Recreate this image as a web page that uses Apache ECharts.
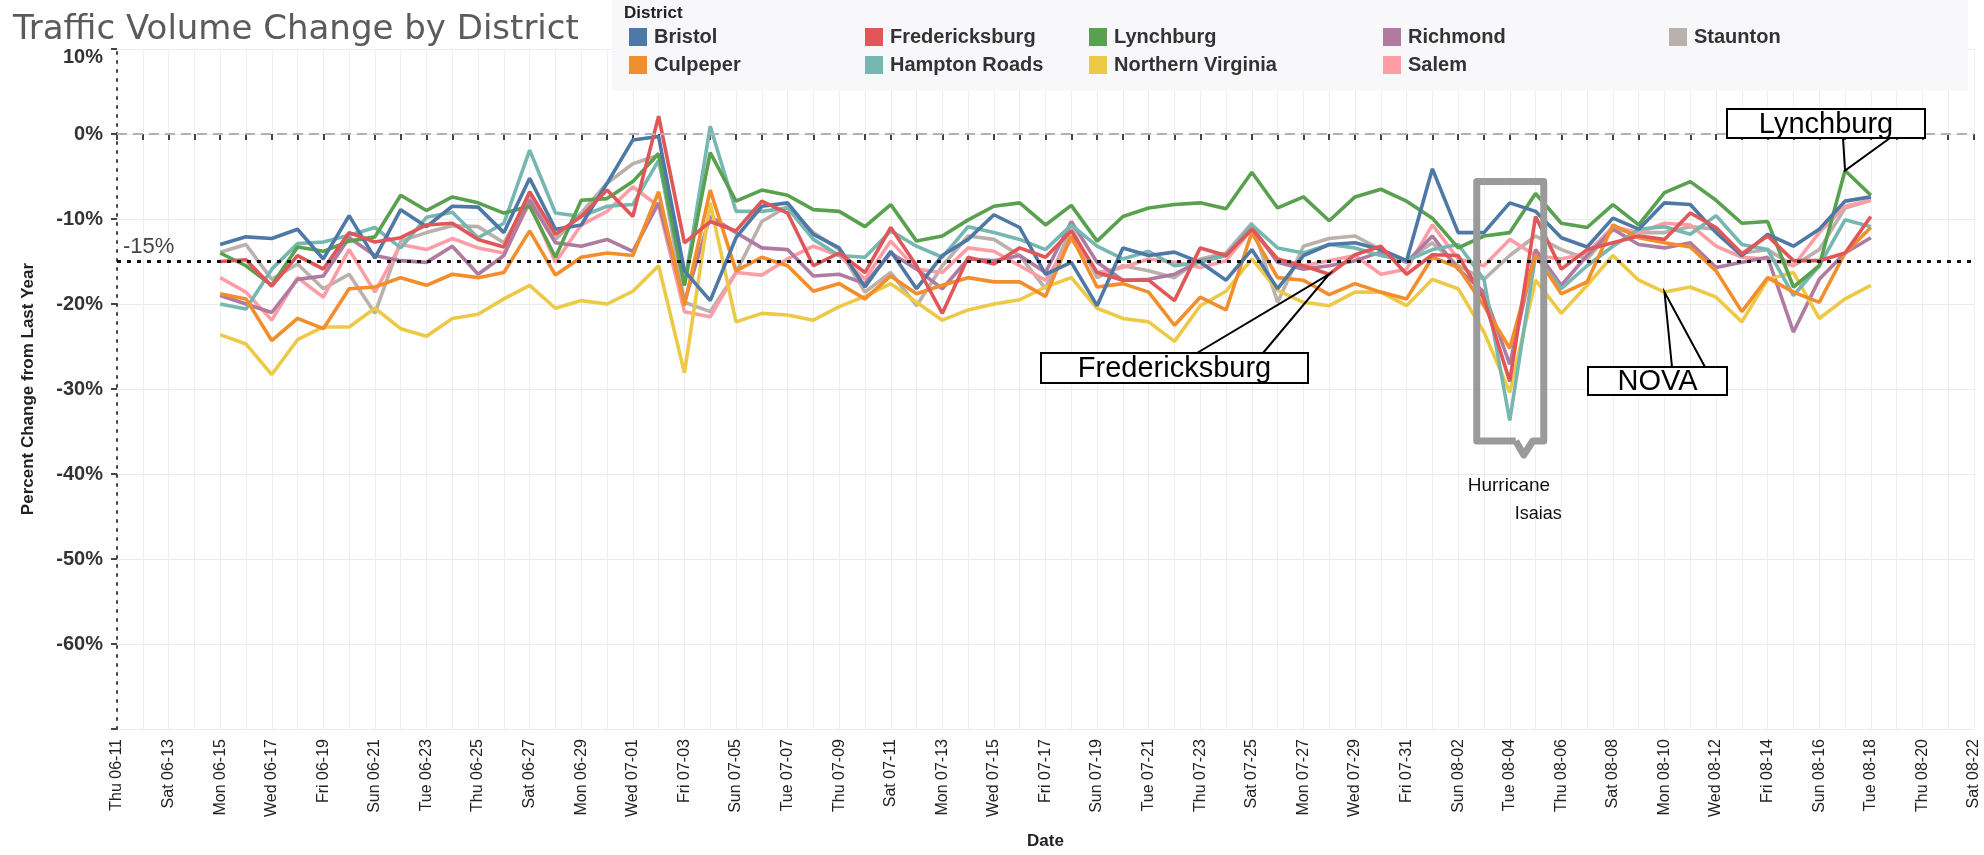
<!DOCTYPE html>
<html><head><meta charset="utf-8">
<script src="https://cdn.jsdelivr.net/npm/echarts@6/dist/echarts.min.js"></script>
<style>html,body{margin:0;padding:0;background:#fff;}#c{width:1984px;height:855px;}</style>
</head><body><div id="c"></div>
<script>
// ---- axis categories (every day, Thu 06-11 .. Sat 08-22, 2020) ----
const DOW = ['Sun','Mon','Tue','Wed','Thu','Fri','Sat'];
const categories = [];
for (let t = Date.UTC(2020,5,11); t <= Date.UTC(2020,7,22); t += 86400000) {
  const d = new Date(t);
  const mm = String(d.getUTCMonth()+1).padStart(2,'0');
  const dd = String(d.getUTCDate()).padStart(2,'0');
  categories.push(DOW[d.getUTCDay()] + ' ' + mm + '-' + dd);
}
// data dates: Mon 06-15 .. Tue 08-18
const dataDates = categories.slice(4, 69);

// ---- series values (percent change from last year) ----
const bristol = [-13.0,-12.1,-12.3,-11.2,-14.7,-9.6,-14.6,-8.9,-10.9,-8.5,-8.6,
 -11.6,-5.2,-11.2,-10.7,-5.8,-0.7,-0.3,-16.1,-19.6,-12.2,-8.5,
 -8.1,-11.8,-13.4,-18.0,-13.8,-18.2,-14.3,-12.4,-9.5,-11.0,-16.5,
 -15.1,-20.2,-13.4,-14.3,-13.9,-15.1,-17.2,-13.6,-18.2,-14.3,-13.0,
 -12.8,-13.6,-14.9,-4.1,-11.6,-11.6,-8.1,-9.1,-12.2,-13.3,-9.9,
 -11.2,-8.1,-8.3,-11.6,-14.3,-11.8,-13.2,-11.2,-7.9,-7.4];
const culpeper = [-18.8,-19.4,-24.3,-21.7,-22.9,-18.2,-18.0,-16.9,-17.8,-16.5,-16.9,
 -16.3,-11.4,-16.6,-14.5,-14.0,-14.3,-6.8,-20.2,-6.6,-16.1,-14.5,
 -15.5,-18.5,-17.6,-19.4,-16.7,-18.8,-17.8,-16.9,-17.4,-17.4,-19.1,
 -12.0,-18.0,-17.6,-18.6,-22.5,-19.2,-20.7,-11.6,-16.9,-17.2,-18.9,
 -17.6,-18.6,-19.4,-14.5,-15.7,-20.2,-25.2,-14.2,-18.8,-17.4,-10.7,
 -12.2,-12.8,-13.3,-16.1,-20.9,-16.9,-18.6,-19.8,-14.0,-11.0];
const fredericksburg = [-15.0,-14.8,-17.9,-14.3,-15.9,-11.6,-12.7,-12.2,-10.7,-10.5,-12.4,
 -13.3,-6.8,-11.8,-9.7,-6.6,-9.7,2.1,-12.8,-10.3,-11.4,-7.9,
 -9.3,-15.5,-14.0,-16.3,-11.0,-15.5,-21.1,-14.5,-15.3,-13.4,-14.5,
 -11.4,-16.3,-17.2,-17.2,-19.6,-13.4,-14.3,-11.2,-14.7,-15.5,-16.5,
 -14.2,-13.2,-16.5,-14.2,-14.3,-19.4,-29.1,-9.7,-15.9,-13.6,-12.8,
 -12.0,-12.4,-9.3,-11.0,-14.1,-12.0,-14.9,-14.9,-14.0,-9.7];
const hamptonRoads = [-20.0,-20.6,-15.9,-12.9,-12.7,-11.9,-11.0,-13.4,-9.8,-9.2,-12.2,
 -10.5,-1.9,-9.3,-9.7,-8.5,-8.3,-3.1,-17.8,0.9,-9.1,-9.1,
 -8.7,-12.4,-14.3,-14.5,-11.4,-13.2,-14.5,-10.9,-11.6,-12.4,-13.6,
 -10.7,-13.2,-14.7,-13.8,-15.5,-15.1,-14.3,-10.7,-13.4,-14.0,-13.0,
 -13.4,-14.3,-14.9,-13.6,-13.0,-17.1,-33.7,-14.3,-18.2,-15.5,-13.2,
 -11.2,-10.9,-11.8,-9.6,-13.0,-13.6,-19.0,-15.5,-10.1,-10.9];
const lynchburg = [-14.0,-15.5,-17.8,-13.3,-13.8,-12.6,-12.1,-7.2,-9.0,-7.4,-8.1,
 -9.3,-8.5,-14.5,-7.8,-7.6,-5.6,-2.3,-17.8,-2.2,-7.9,-6.6,
 -7.2,-8.9,-9.1,-10.9,-8.3,-12.6,-12.0,-10.1,-8.5,-8.1,-10.7,
 -8.4,-12.6,-9.7,-8.7,-8.3,-8.1,-8.8,-4.5,-8.7,-7.4,-10.2,
 -7.4,-6.5,-7.9,-9.9,-13.4,-12.0,-11.6,-7.0,-10.5,-11.0,-8.3,
 -10.7,-6.9,-5.6,-7.8,-10.5,-10.3,-18.0,-15.5,-4.3,-7.2];
const northernVirginia = [-23.6,-24.7,-28.3,-24.2,-22.7,-22.7,-20.5,-22.9,-23.8,-21.7,-21.2,
 -19.4,-17.8,-20.5,-19.6,-20.0,-18.5,-15.5,-28.1,-8.1,-22.1,-21.1,
 -21.3,-21.9,-20.3,-19.1,-17.6,-19.8,-21.9,-20.7,-20.0,-19.5,-18.0,
 -16.9,-20.5,-21.7,-22.1,-24.4,-20.2,-18.5,-14.7,-18.4,-19.8,-20.2,
 -18.6,-18.6,-20.2,-17.1,-18.2,-23.3,-30.4,-17.2,-21.1,-17.8,-14.3,
 -17.2,-18.6,-18.0,-19.2,-22.1,-17.1,-16.3,-21.7,-19.4,-17.8];
const richmond = [-19.0,-20.0,-21.0,-17.1,-16.7,-12.2,-14.3,-14.9,-15.1,-13.2,-16.5,
 -14.3,-7.8,-12.8,-13.2,-12.4,-13.8,-8.1,-19.8,-9.7,-11.6,-13.4,
 -13.6,-16.7,-16.5,-17.6,-14.0,-15.9,-18.2,-14.7,-14.9,-14.3,-16.3,
 -10.3,-15.1,-17.2,-17.1,-16.5,-14.9,-14.3,-10.9,-15.1,-15.9,-15.5,
 -14.9,-13.9,-15.1,-12.0,-15.9,-18.6,-27.1,-13.6,-17.8,-14.3,-11.2,
 -13.0,-13.4,-12.8,-15.7,-15.1,-14.5,-23.3,-17.1,-14.0,-12.2];
const salem = [-16.9,-18.6,-21.9,-16.9,-19.2,-13.6,-18.6,-13.0,-13.6,-12.3,-13.4,
 -14.0,-8.1,-15.1,-10.7,-9.1,-6.2,-8.5,-20.9,-21.5,-16.3,-16.6,
 -14.7,-13.2,-14.3,-17.1,-12.6,-15.9,-16.3,-13.4,-13.8,-15.5,-17.2,
 -12.4,-16.3,-15.7,-14.7,-15.1,-15.7,-14.9,-11.2,-14.9,-15.5,-14.9,
 -14.3,-16.5,-15.9,-10.7,-14.7,-15.5,-12.4,-14.3,-14.7,-14.0,-10.9,
 -11.6,-10.5,-10.7,-13.2,-14.5,-14.7,-15.5,-11.6,-8.5,-7.8];
const staunton = [-13.9,-13.0,-17.1,-15.3,-18.2,-16.5,-21.1,-12.6,-11.6,-10.8,-10.9,
 -12.8,-7.4,-12.4,-9.3,-5.8,-3.5,-2.5,-19.8,-20.9,-16.3,-10.3,
 -8.5,-11.6,-13.6,-18.6,-16.3,-20.2,-15.5,-12.0,-12.4,-14.3,-18.2,
 -11.0,-16.9,-15.5,-16.1,-16.9,-14.7,-14.0,-10.5,-19.8,-13.2,-12.3,
 -12.0,-13.6,-14.9,-12.8,-15.5,-17.1,-14.3,-12.0,-13.6,-14.7,-11.2,
 -11.6,-11.6,-10.9,-11.2,-14.0,-13.6,-15.5,-13.6,-8.7,-7.8];

const districts = ['Bristol','Culpeper','Fredericksburg','Hampton Roads','Lynchburg','Northern Virginia','Richmond','Salem','Staunton'];
const values = [bristol, culpeper, fredericksburg, hamptonRoads, lynchburg, northernVirginia, richmond, salem, staunton];
const colors = ['#4e79a7','#f28e2b','#e15759','#76b7b2','#59a14f','#edc948','#b07aa1','#ff9da7','#bab0ac'];
const drawOrder = [8,7,6,5,3,1,4,0,2];

const yTicks = [10,0,-10,-20,-30,-40,-50,-60];
const FONT = "'Liberation Sans', Arial, sans-serif";

const chart = echarts.init(document.getElementById('c'), null, {renderer:'canvas'});

const series = drawOrder.map(k => ({
  name: districts[k], type:'line', symbol:'none', smooth:false,
  data: values[k].map((v,i) => [dataDates[i], v]),
  lineStyle:{width:3.6, color:colors[k]}, itemStyle:{color:colors[k]},
  emphasis:{disabled:true}, z: 3
}));
series.push({
  name:'ref', type:'line', data:[], silent:true,
  markLine:{silent:true, symbol:'none', animation:false, data:[
    {yAxis:0, lineStyle:{color:'#b3b3b3', type:[10,6], width:2}, label:{show:false}},
    {yAxis:-15, lineStyle:{color:'#111', type:[4,6], width:3},
      label:{show:true, position:'insideStartTop', formatter:'-15%', fontSize:22, color:'#444', fontFamily:FONT, distance:[6,4]}}
  ]}
});

// legend columns (Tableau layout: column-major)
const legendCols = [['Bristol','Culpeper'],['Fredericksburg','Hampton Roads'],['Lynchburg','Northern Virginia'],['Richmond','Salem'],['Staunton']];
const legendX = [624, 860, 1084, 1378, 1664];
const legends = legendCols.map((col,ci) => ({
  data: col, orient:'vertical', left: legendX[ci], top: 22, itemGap: 8,
  itemWidth: 18, itemHeight: 18, icon:'rect', selectedMode:false, z: 10,
  textStyle:{fontSize:20, fontWeight:'bold', color:'#333', fontFamily:FONT, lineHeight:18, padding:[0,0,0,2]}
}));

chart.setOption({
  animation:false,
  color: colors,
  title:{text:'Traffic Volume Change by District', left:8, top:8,
    textStyle:{fontSize:34, fontWeight:'normal', color:'#5b5b5b', fontFamily:"'DejaVu Sans', sans-serif"}},
  legend: legends,
  grid:{left:117, right:10, top:49, bottom:118, containLabel:false},
  xAxis:{type:'category', data:categories, boundaryGap:false,
    name:'Date', nameLocation:'middle', nameGap:104,
    nameTextStyle:{fontSize:17, fontWeight:'bold', color:'#222', fontFamily:FONT},
    axisLine:{show:false},
    axisTick:{show:true, interval:0, length:6, lineStyle:{color:'#444', width:2}},
    axisLabel:{interval:1, rotate:90, fontSize:16, color:'#222', margin:10, fontFamily:FONT},
    splitLine:{show:true, interval:0, lineStyle:{color:'#eeeeee', width:1}}
  },
  yAxis:{type:'value', min:-70, max:10, interval:10,
    name:'Percent Change from Last Year', nameLocation:'middle', nameRotate:90, nameGap:80,
    nameTextStyle:{fontSize:17, fontWeight:'bold', color:'#222', fontFamily:FONT},
    axisLine:{show:true, lineStyle:{color:'#444', width:2, type:[2,7]}},
    axisTick:{show:true, length:6, lineStyle:{color:'#444', width:2}},
    axisLabel:{
      formatter: v => (v === 10 ? '{t|10%}' : (yTicks.indexOf(v) >= 0 ? v + '%' : '')),
      rich:{t:{fontSize:20, fontWeight:'bold', color:'#333', fontFamily:FONT, padding:[16,0,0,0]}},
      fontSize:20, fontWeight:'bold', color:'#333', margin:14, fontFamily:FONT},
    splitLine:{show:true, lineStyle:{color:'#ebebeb', width:1}}
  },
  series: series
});

// ---- annotations (anchored to data points via the axes) ----
function pt(dateLabel, seriesArr) {
  const i = dataDates.indexOf(dateLabel);
  return chart.convertToPixel({xAxisIndex:0, yAxisIndex:0}, [categories.indexOf(dateLabel), seriesArr[i]]);
}
const lyn = pt(dataDates[63], lynchburg);
const fre = pt(dataDates[43], fredericksburg);
const nova = pt(dataDates[56], northernVirginia);
const hur = chart.convertToPixel({xAxisIndex:0, yAxisIndex:0}, [categories.indexOf(dataDates[50]), 0]);

function callout(box, text, feet, apex) {
  return [
    {type:'rect', shape:{x:box[0], y:box[1], width:box[2], height:box[3]}, style:{fill:'#fff', stroke:'#000', lineWidth:2}, z:20},
    {type:'polyline', shape:{points:[feet[0], apex, feet[1]]}, style:{stroke:'#000', lineWidth:2, fill:null}, z:21},
    {type:'text', x:box[0]+box[2]/2, y:box[1]+box[3]/2+1, style:{text:text, font:"29px 'Liberation Sans', Arial, sans-serif", fill:'#000', align:'center', verticalAlign:'middle'}, z:22}
  ];
}
const bx = hur[0];
const graphics = [
  {type:'rect', shape:{x:612, y:0, width:1356, height:91}, style:{fill:'#f8f7fa'}, z:1},
  {type:'text', x:624, y:5, style:{text:'District', font:"bold 17px 'Liberation Sans', Arial, sans-serif", fill:'#222'}, z:22},
  ...callout([1727,109,198,29], 'Lynchburg', [[1843,138],[1890,138]], lyn),
  ...callout([1041,353,267,30], 'Fredericksburg', [[1197,353],[1263,353]], fre),
  ...callout([1588,367,139,28], 'NOVA', [[1672,367],[1705,367]], nova),
  {type:'polyline', shape:{points:[[bx+6,441],[bx-33,441],[bx-33,181.5],[bx+34,181.5],[bx+34,441],[bx+23,441],[bx+14,455],[bx+6,441]]},
    style:{stroke:'#9a9a9a', lineWidth:7, fill:null, lineJoin:'round'}, z:20},
  {type:'text', x:bx-42, y:476, style:{text:'Hurricane', font:"19px 'Liberation Sans', Arial, sans-serif", fill:'#111'}, z:22},
  {type:'text', x:bx+5, y:505, style:{text:'Isaias', font:"18px 'Liberation Sans', Arial, sans-serif", fill:'#111'}, z:22}
];
chart.setOption({graphic: graphics});
</script>
</body></html>
